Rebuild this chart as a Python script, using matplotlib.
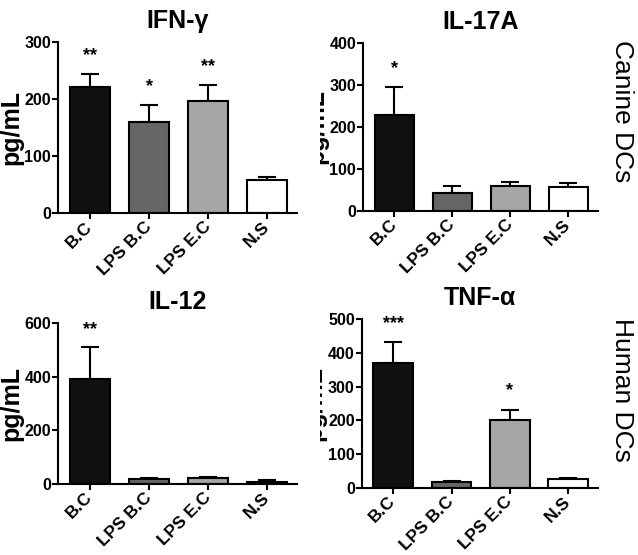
import numpy as np
import matplotlib
matplotlib.use("Agg")
import matplotlib.pyplot as plt
from matplotlib.transforms import Bbox, TransformedBbox

plt.rcParams['font.family'] = ['Liberation Sans', 'DejaVu Sans']

groups = ["B.C", "LPS B.C", "LPS E.C", "N.S"]
colors = ["#111111", "#666666", "#a6a6a6", "#ffffff"]

ifng_mean = [221, 160, 196, 58]
ifng_err = [22, 29, 28, 6]
ifng_stars = ["**", "*", "**", ""]

il17_mean = [228, 43, 59, 56]
il17_err = [67, 17, 10, 11]
il17_stars = ["*", "", "", ""]

il12_mean = [391, 17, 21, 9]
il12_err = [118, 6, 6, 4]
il12_stars = ["**", "", "", ""]

tnf_mean = [369, 17, 201, 25]
tnf_err = [64, 3, 31, 4]
tnf_stars = ["***", "", "*", ""]

panels = [
    ("IFN-γ", ifng_mean, ifng_err, ifng_stars, 300, [0, 100, 200, 300], [0.091, 0.616, 0.375, 0.309]),
    ("IL-17A", il17_mean, il17_err, il17_stars, 400, [0, 100, 200, 300, 400], [0.569, 0.620, 0.368, 0.303]),
    ("IL-12", il12_mean, il12_err, il12_stars, 600, [0, 200, 400, 600], [0.091, 0.128, 0.375, 0.290]),
    ("TNF-α", tnf_mean, tnf_err, tnf_stars, 500, [0, 100, 200, 300, 400, 500], [0.567, 0.121, 0.370, 0.304]),
]

fig = plt.figure(figsize=(6.38, 5.55), dpi=100)
# right column images cut their y label at the middle of the figure
right_clip = TransformedBbox(Bbox([[0.5015, 0], [1, 1]]), fig.transFigure)

for title, mean, err, stars, ymax, yticks, pos in panels:
    ax = fig.add_axes(pos)
    x = np.arange(len(groups))
    ax.bar(x, mean, width=0.68, color=colors, edgecolor="black", linewidth=1.5, zorder=2)
    ax.errorbar(x, mean, yerr=[np.zeros(len(err)), err], fmt="none", ecolor="black",
                elinewidth=1.5, capsize=6.5, capthick=1.5, zorder=1)
    for xi, m, e, s in zip(x, mean, err, stars):
        if s:
            ax.text(xi, m + e + ymax * 0.06, s, ha="center", va="bottom",
                    fontsize=13, fontweight="bold")
    ax.set_xlim(-0.54, 3.51)
    ax.set_ylim(0, ymax)
    ax.set_yticks(yticks)
    ax.set_xticks(x)
    ax.set_xticklabels(groups, rotation=45, ha="right", va="center", rotation_mode="anchor",
                       fontsize=12.5, fontweight="bold")
    for lab in ax.get_yticklabels():
        lab.set_fontweight("bold")
        lab.set_fontsize(11.5)
    ax.tick_params(axis="both", direction="out", length=4, width=1.5, pad=1)
    ax.tick_params(axis="x", pad=4)
    ax.spines["top"].set_visible(False)
    ax.spines["right"].set_visible(False)
    ax.spines["left"].set_linewidth(1.5)
    ax.spines["bottom"].set_linewidth(1.5)
    ylab = ax.set_ylabel("pg/mL", fontsize=18, fontweight="bold", labelpad=1)
    if pos[0] > 0.5:
        ylab.set_clip_box(right_clip)
        ylab.set_clip_on(True)
    ax.set_title(title, fontsize=18, fontweight="bold", pad=10)

fig.text(0.975, 0.799, "Canine DCs", rotation=-90, ha="center", va="center", fontsize=19)
fig.text(0.975, 0.297, "Human DCs", rotation=-90, ha="center", va="center", fontsize=19)

fig.savefig("out.png", dpi=100)
